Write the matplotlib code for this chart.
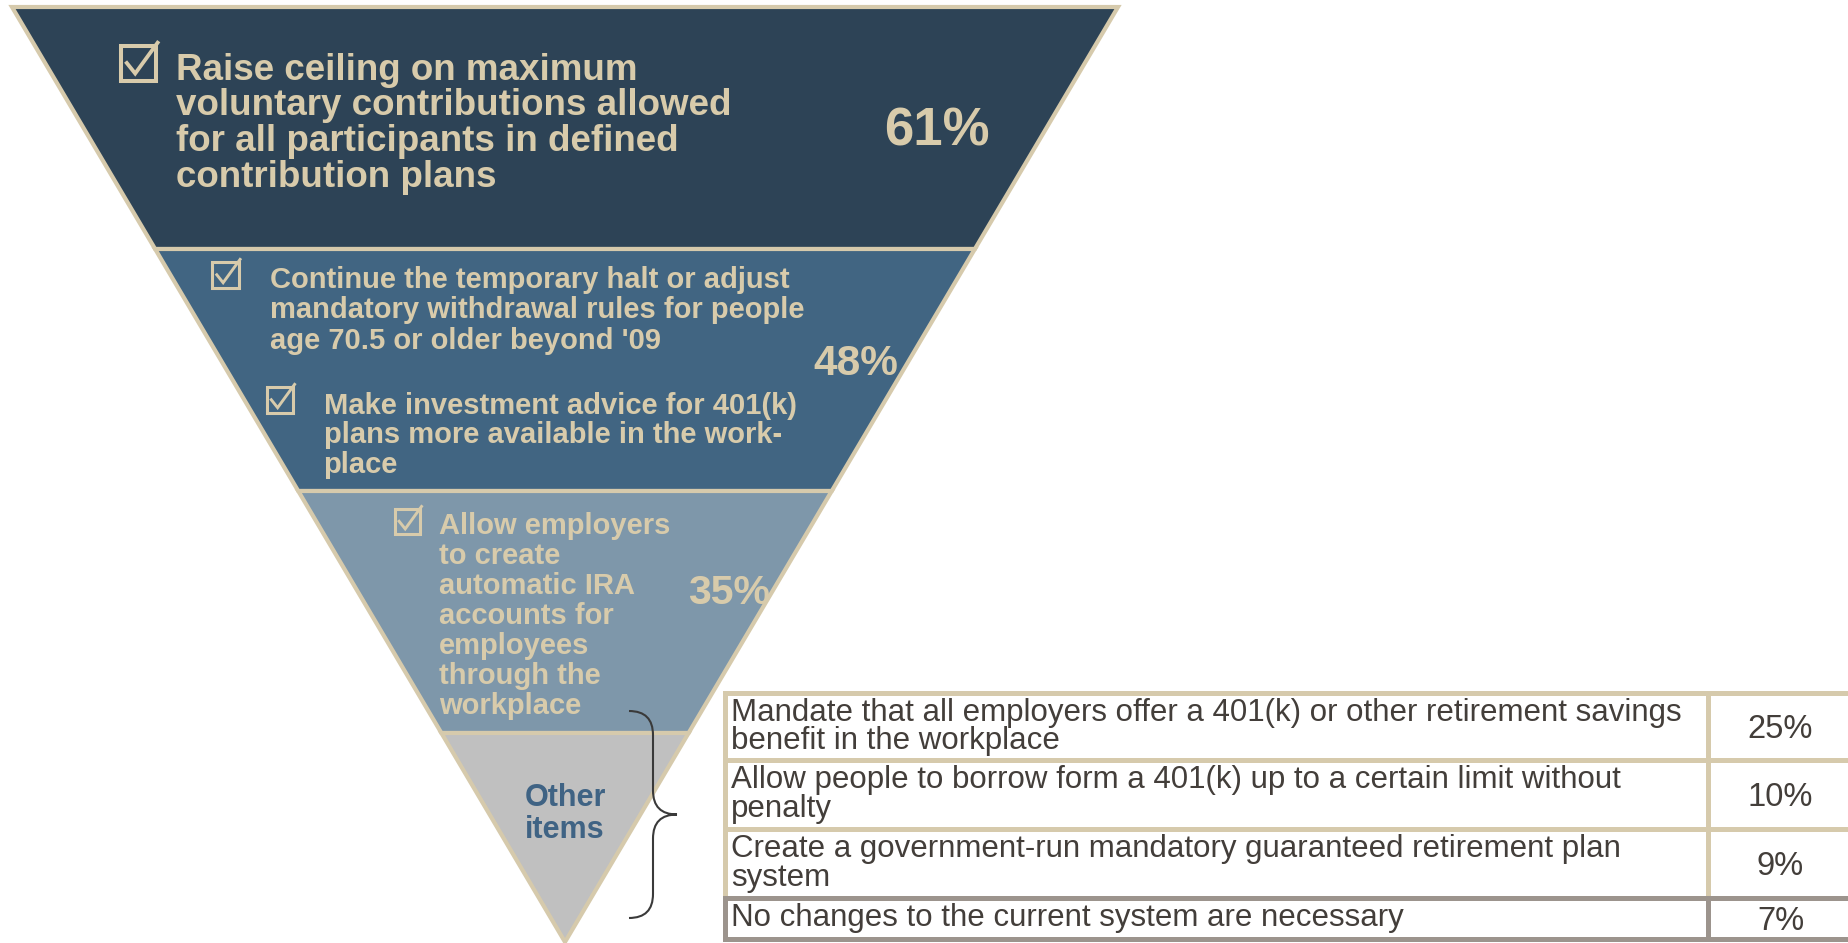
import matplotlib
matplotlib.use("Agg")
import matplotlib.pyplot as plt
from matplotlib.patches import Polygon, Rectangle, PathPatch
from matplotlib.path import Path
from matplotlib.lines import Line2D

# ---- data -------------------------------------------------------------
band_pcts = [61, 48, 35]
band_items = [
    [["Raise ceiling on maximum",
      "voluntary contributions allowed",
      "for all participants in defined",
      "contribution plans"]],
    [["Continue the temporary halt or adjust",
      "mandatory withdrawal rules for people",
      "age 70.5 or older beyond '09"],
     ["Make investment advice for 401(k)",
      "plans more available in the work-",
      "place"]],
    [["Allow employers", "to create", "automatic IRA", "accounts for",
      "employees", "through the", "workplace"]],
]
other_label = ["Other", "items"]

other_items = [
    ["Mandate that all employers offer a 401(k) or other retirement savings",
     "benefit in the workplace"],
    ["Allow people to borrow form a 401(k) up to a certain limit without",
     "penalty"],
    ["Create a government-run mandatory guaranteed retirement plan",
     "system"],
    ["No changes to the current system are necessary"],
]
other_pcts = [25, 10, 9, 7]

# ---- style ------------------------------------------------------------
BAND_COLORS = ["#2d4356", "#416582", "#7e97aa", "#c0c0c0"]
TAN = "#d6caac"
TAN_TEXT = "#d8cbab"
GRAY_EDGE = "#9c948d"
TABLE_TEXT = "#433e3a"
OTHER_COLOR = "#3f6384"
FONT = "Liberation Sans"

W, H = 1849, 943
fig = plt.figure(figsize=(W / 100, H / 100), dpi=100)
ax = fig.add_axes([0, 0, 1, 1])
ax.set_xlim(0, W)
ax.set_ylim(H, 0)
ax.axis("off")

# ---- funnel -----------------------------------------------------------
top_y, apex_y = 7, 942
left_x, right_x = 12, 1118
apex_x = (left_x + right_x) / 2
band_h = 242


def edge_x(y, side):
    f = (y - top_y) / (apex_y - top_y)
    base = left_x if side == "l" else right_x
    return base + (apex_x - base) * f


n_bands = len(band_pcts) + 1
bounds = [top_y + k * band_h for k in range(n_bands)] + [apex_y]
for k in range(n_bands):
    y0, y1 = bounds[k], bounds[k + 1]
    if k < n_bands - 1:
        pts = [(edge_x(y0, "l"), y0), (edge_x(y0, "r"), y0),
               (edge_x(y1, "r"), y1), (edge_x(y1, "l"), y1)]
    else:
        pts = [(edge_x(y0, "l"), y0), (edge_x(y0, "r"), y0), (apex_x, y1)]
    ax.add_patch(Polygon(pts, closed=True, facecolor=BAND_COLORS[k],
                         edgecolor=TAN, linewidth=3.0, joinstyle="miter",
                         zorder=1))


def checkbox(x, y, s, lw):
    """Ticked ballot box; (x, y) is its top-left corner."""
    ax.add_patch(Rectangle((x, y), s, s, facecolor="none", edgecolor=TAN_TEXT,
                           linewidth=lw, zorder=3))
    ax.add_line(Line2D([x + 0.18 * s, x + 0.42 * s, x + 1.06 * s],
                       [y + 0.50 * s, y + 0.80 * s, y - 0.08 * s],
                       color=TAN_TEXT, linewidth=lw * 0.95,
                       solid_joinstyle="miter", zorder=3))


def text_lines(lines, x, y0, step, **kw):
    for i, line in enumerate(lines):
        ax.text(x, y0 + i * step, line, va="baseline", **kw)


bold_tan = dict(family=FONT, weight="bold", color=TAN_TEXT, zorder=4)

# band 1
checkbox(120.5, 45.5, 35, 2.9)
text_lines(band_items[0][0], 176.5, 79.5, 35.8, fontsize=26.5, **bold_tan)
ax.text(937, 145, f"{band_pcts[0]}%", ha="center", va="baseline",
        fontsize=38, **bold_tan)

# band 2
checkbox(212, 261.5, 26.5, 2.2)
text_lines(band_items[1][0], 269.5, 287.5, 30.8, fontsize=21, **bold_tan)
checkbox(266.5, 386.5, 26.5, 2.2)
text_lines(band_items[1][1], 323.5, 413.5, 29.6, fontsize=21, **bold_tan)
ax.text(856, 375, f"{band_pcts[1]}%", ha="center", va="baseline",
        fontsize=30.5, **bold_tan)

# band 3
checkbox(394.5, 508.5, 25.5, 2.2)
text_lines(band_items[2][0], 439, 533.5, 30.1, fontsize=21, **bold_tan)
ax.text(729, 604, f"{band_pcts[2]}%", ha="center", va="baseline",
        fontsize=29.5, **bold_tan)

# bottom band label
text_lines(other_label, apex_x, 806.5, 31.7, fontsize=22, ha="center",
           family=FONT, weight="bold", color=OTHER_COLOR, zorder=4)

# ---- curly brace pointing to the table ---------------------------------
bx0, bx1, bx2 = 629, 653, 677
by0, bym, by1 = 711, 814.5, 918
r = 24
verts = [(bx0, by0), (bx1, by0), (bx1, by0 + r),
         (bx1, bym - r), (bx1, bym), (bx2, bym),
         (bx1, bym), (bx1, bym + r),
         (bx1, by1 - r), (bx1, by1), (bx0, by1)]
codes = [Path.MOVETO, Path.CURVE3, Path.CURVE3,
         Path.LINETO, Path.CURVE3, Path.CURVE3,
         Path.CURVE3, Path.CURVE3,
         Path.LINETO, Path.CURVE3, Path.CURVE3]
ax.add_patch(PathPatch(Path(verts, codes), facecolor="none",
                       edgecolor="#3a3a3a", linewidth=1.5, zorder=5))

# ---- table of remaining items -----------------------------------------
tx0, tx1, tdiv = 725, 1853, 1708
row_tops = [692.5, 760, 829, 898]
row_bottom = 938.5
edges = row_tops + [row_bottom]
ax.add_patch(Rectangle((tx0, edges[0]), tx1 - tx0, edges[-1] - edges[0],
                       facecolor="white", edgecolor="none", zorder=1))

n_rows = len(other_items)
last = n_rows - 1
tlw = 3.6
for i, yv in enumerate(edges):
    c = GRAY_EDGE if i >= last else TAN
    ax.add_line(Line2D([tx0, tx1], [yv, yv], color=c, linewidth=tlw,
                       solid_capstyle="projecting", zorder=2))
for xv in (tx0, tdiv):
    ax.add_line(Line2D([xv, xv], [edges[0], edges[last]], color=TAN,
                       linewidth=tlw, solid_capstyle="projecting", zorder=2))
    ax.add_line(Line2D([xv, xv], [edges[last], edges[-1]], color=GRAY_EDGE,
                       linewidth=tlw, solid_capstyle="projecting", zorder=2))

for i, (lines, pct) in enumerate(zip(other_items, other_pcts)):
    top, bot = edges[i], edges[i + 1]
    text_lines(lines, 731, top + 28.3, 28.6, fontsize=22.5, family=FONT,
               color=TABLE_TEXT, zorder=4)
    ax.text((tdiv + tx1) / 2, (top + bot) / 2 + 11.5, f"{pct}%", ha="center",
            va="baseline", fontsize=23.5, family=FONT, color=TABLE_TEXT,
            zorder=4)

fig.savefig("out.png", dpi=100, facecolor="white")
